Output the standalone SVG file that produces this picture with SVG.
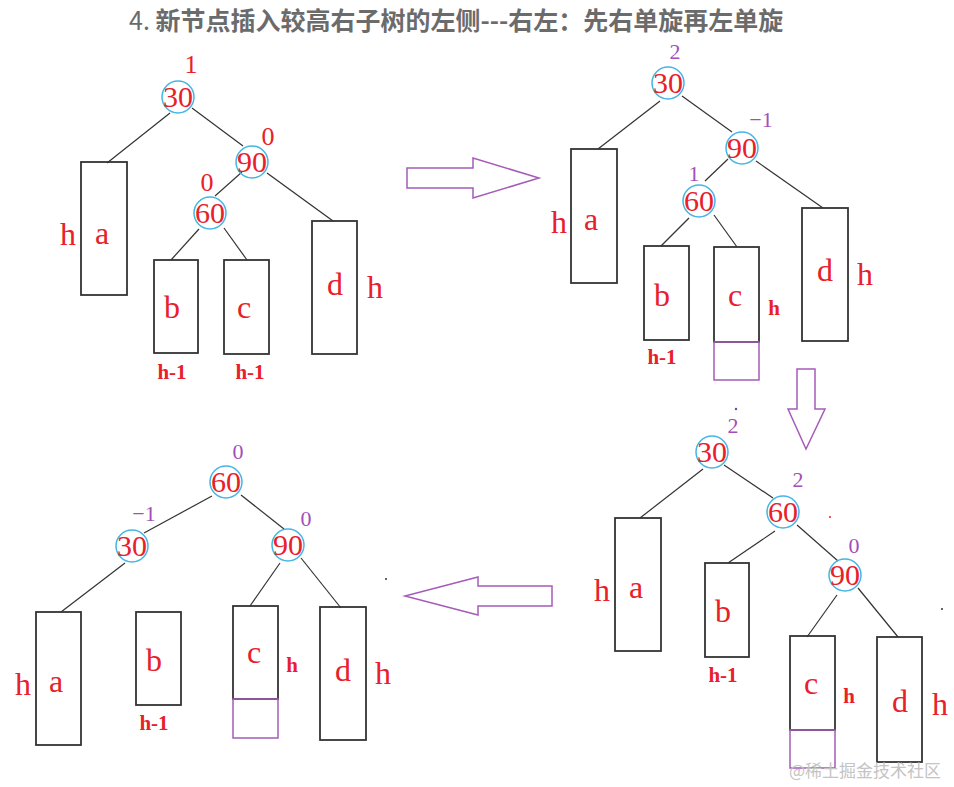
<svg xmlns="http://www.w3.org/2000/svg" width="954" height="787" viewBox="0 0 954 787">
<style>
.title{font-family:"Noto Sans CJK SC","Noto Sans",sans-serif;font-size:25px;font-weight:bold;fill:#6b6b6b}
.nc{fill:none;stroke:#45b5e5;stroke-width:1.5}
.nt{font-family:"Liberation Serif",serif;font-size:30px;fill:#e8202a;text-anchor:middle}
.bx{fill:none;stroke:#333;stroke-width:1.8}
.pb{fill:none;stroke:#a55bb8;stroke-width:1.5}
.lt{font-family:"Liberation Serif",serif;font-size:32px;fill:#e8202a;text-anchor:middle}
.hs{font-family:"Liberation Serif",serif;font-size:21px;font-weight:bold;fill:#e8202a;text-anchor:middle}
.br{font-family:"Liberation Serif",serif;font-size:26px;fill:#e8202a;text-anchor:middle}
.bp{font-family:"Liberation Serif",serif;font-size:22px;fill:#a24fb8;text-anchor:middle}
.ln{stroke:#333;stroke-width:1.2;fill:none}
.ar{fill:#fff;stroke:#a55bb8;stroke-width:1.5}
.wm{font-family:"Noto Sans CJK SC","Noto Sans",sans-serif;font-size:17px;fill:#c4c4c4}
</style>
<rect width="954" height="787" fill="#fff"/>
<text class="title" x="129" y="30"><tspan font-weight="normal">4. </tspan>新节点插入较高右子树的左侧---右左：先右单旋再左单旋</text>

<!-- ===== Tree 1 (top-left) ===== -->
<g id="connectors-1">
<line class="ln" x1="170" y1="113" x2="107" y2="163"/>
<line class="ln" x1="192" y1="108" x2="243" y2="146"/>
<line class="ln" x1="242" y1="172" x2="215" y2="196"/>
<line class="ln" x1="267" y1="173" x2="333" y2="221"/>
<line class="ln" x1="199" y1="229" x2="171" y2="260"/>
<line class="ln" x1="224" y1="228" x2="247" y2="260"/>
</g>
<g id="t1-n30"><circle class="nc" cx="178" cy="97" r="16"/><text class="nt" x="178" y="107">30</text><text class="br" x="191" y="73">1</text></g>
<g id="t1-n90"><circle class="nc" cx="252" cy="162" r="16"/><text class="nt" x="252" y="172">90</text><text class="br" x="268" y="145">0</text></g>
<g id="t1-n60"><circle class="nc" cx="210" cy="213" r="16"/><text class="nt" x="210" y="223">60</text><text class="br" x="207" y="191">0</text></g>
<g id="t1-a"><rect class="bx" x="81" y="162" width="46" height="133"/><text class="lt" x="102" y="244">a</text><text class="lt" x="68" y="245">h</text></g>
<g id="t1-b"><rect class="bx" x="154" y="260" width="44" height="93"/><text class="lt" x="172" y="318">b</text><text class="hs" x="172" y="379">h-1</text></g>
<g id="t1-c"><rect class="bx" x="224" y="260" width="45" height="94"/><text class="lt" x="244" y="318">c</text><text class="hs" x="250" y="379">h-1</text></g>
<g id="t1-d"><rect class="bx" x="312" y="221" width="45" height="133"/><text class="lt" x="335" y="295">d</text><text class="lt" x="375" y="298">h</text></g>

<!-- arrow right -->
<g id="arrow-right"><polygon class="ar" points="407,168 473,168 473,158 539,178 473,198 473,188 407,188"/></g>

<!-- ===== Tree 2 (top-right) ===== -->
<g id="connectors-2">
<line class="ln" x1="660" y1="101" x2="598" y2="149"/>
<line class="ln" x1="682" y1="96" x2="732" y2="132"/>
<line class="ln" x1="728" y1="159" x2="705" y2="181"/>
<line class="ln" x1="756" y1="161" x2="823" y2="208"/>
<line class="ln" x1="689" y1="218" x2="661" y2="246"/>
<line class="ln" x1="714" y1="215" x2="737" y2="247"/>
</g>
<g id="t2-n30"><circle class="nc" cx="668" cy="83" r="16"/><text class="nt" x="668" y="93">30</text><text class="bp" x="675" y="59">2</text></g>
<g id="t2-n90"><circle class="nc" cx="742" cy="148" r="16"/><text class="nt" x="742" y="158">90</text><text class="bp" x="761" y="127">−1</text></g>
<g id="t2-n60"><circle class="nc" cx="699" cy="201" r="16"/><text class="nt" x="699" y="211">60</text><text class="bp" x="694" y="181" font-size="20">1</text></g>
<g id="t2-a"><rect class="bx" x="571" y="149" width="46" height="134"/><text class="lt" x="591" y="230">a</text><text class="lt" x="559" y="233">h</text></g>
<g id="t2-b"><rect class="bx" x="644" y="246" width="45" height="94"/><text class="lt" x="662" y="306">b</text><text class="hs" x="662" y="364">h-1</text></g>
<g id="t2-c"><rect class="bx" x="714" y="247" width="45" height="95"/><rect class="pb" x="714" y="342" width="45" height="38"/><text class="lt" x="735" y="306">c</text><text class="hs" x="774" y="315">h</text></g>
<g id="t2-d"><rect class="bx" x="802" y="208" width="46" height="133"/><text class="lt" x="825" y="281">d</text><text class="lt" x="865" y="285">h</text></g>

<!-- arrow down -->
<g id="arrow-down"><polygon class="ar" points="797,369 815,369 815,409 825,409 806,449 788,409 797,409"/></g>
<circle cx="736" cy="409" r="1.2" fill="#5a4fa8"/>

<!-- ===== Tree 3 (bottom-right) ===== -->
<g id="connectors-3">
<line class="ln" x1="703" y1="469" x2="640" y2="518"/>
<line class="ln" x1="724" y1="465" x2="773" y2="498"/>
<line class="ln" x1="775" y1="531" x2="728" y2="563"/>
<line class="ln" x1="797" y1="525" x2="838" y2="561"/>
<line class="ln" x1="837" y1="595" x2="807" y2="637"/>
<line class="ln" x1="858" y1="588" x2="898" y2="637"/>
</g>
<g id="t3-n30"><circle class="nc" cx="712" cy="452" r="16"/><text class="nt" x="712" y="462">30</text><text class="bp" x="733" y="433">2</text></g>
<g id="t3-n60"><circle class="nc" cx="783" cy="512" r="16"/><text class="nt" x="783" y="522">60</text><text class="bp" x="798" y="487">2</text></g>
<g id="t3-n90"><circle class="nc" cx="845" cy="575" r="16"/><text class="nt" x="845" y="585">90</text><text class="bp" x="854" y="553">0</text></g>
<g id="t3-a"><rect class="bx" x="615" y="518" width="46" height="133"/><text class="lt" x="636" y="598">a</text><text class="lt" x="602" y="601">h</text></g>
<g id="t3-b"><rect class="bx" x="705" y="563" width="44" height="94"/><text class="lt" x="723" y="622">b</text><text class="hs" x="723" y="682">h-1</text></g>
<g id="t3-c"><rect class="bx" x="790" y="636" width="45" height="94"/><rect class="pb" x="790" y="730" width="45" height="38"/><text class="lt" x="811" y="694">c</text><text class="hs" x="849" y="703">h</text></g>
<g id="t3-d"><rect class="bx" x="877" y="637" width="45" height="125"/><text class="lt" x="900" y="712">d</text><text class="lt" x="940" y="715">h</text></g>
<circle cx="830" cy="517" r="1" fill="#e8202a"/>
<circle cx="942" cy="609" r="1" fill="#333"/>

<!-- arrow left -->
<g id="arrow-left"><polygon class="ar" points="552,586 478,586 478,577 405,596 478,615 478,606 552,606"/></g>
<circle cx="386" cy="579" r="1" fill="#333"/>

<!-- ===== Tree 4 (bottom-left) ===== -->
<g id="connectors-4">
<line class="ln" x1="212" y1="496" x2="144" y2="533"/>
<line class="ln" x1="241" y1="495" x2="284" y2="529"/>
<line class="ln" x1="125" y1="563" x2="61" y2="612"/>
<line class="ln" x1="280" y1="563" x2="250" y2="606"/>
<line class="ln" x1="301" y1="558" x2="341" y2="608"/>
</g>
<g id="t4-n60"><circle class="nc" cx="226" cy="482" r="16"/><text class="nt" x="226" y="492">60</text><text class="bp" x="238" y="459">0</text></g>
<g id="t4-n30"><circle class="nc" cx="132" cy="546" r="16"/><text class="nt" x="132" y="556">30</text><text class="bp" x="144" y="521">−1</text></g>
<g id="t4-n90"><circle class="nc" cx="288" cy="545" r="16"/><text class="nt" x="288" y="555">90</text><text class="bp" x="306" y="526">0</text></g>
<g id="t4-a"><rect class="bx" x="36" y="612" width="45" height="133"/><text class="lt" x="56" y="692">a</text><text class="lt" x="23" y="695">h</text></g>
<g id="t4-b"><rect class="bx" x="136" y="612" width="45" height="93"/><text class="lt" x="154" y="671">b</text><text class="hs" x="154" y="730">h-1</text></g>
<g id="t4-c"><rect class="bx" x="233" y="606" width="45" height="93"/><rect class="pb" x="233" y="699" width="45" height="39"/><text class="lt" x="254" y="663">c</text><text class="hs" x="292" y="672">h</text></g>
<g id="t4-d"><rect class="bx" x="320" y="607" width="46" height="133"/><text class="lt" x="343" y="681">d</text><text class="lt" x="383" y="684">h</text></g>

<text class="wm" x="789" y="777">@稀土掘金技术社区</text>
</svg>
